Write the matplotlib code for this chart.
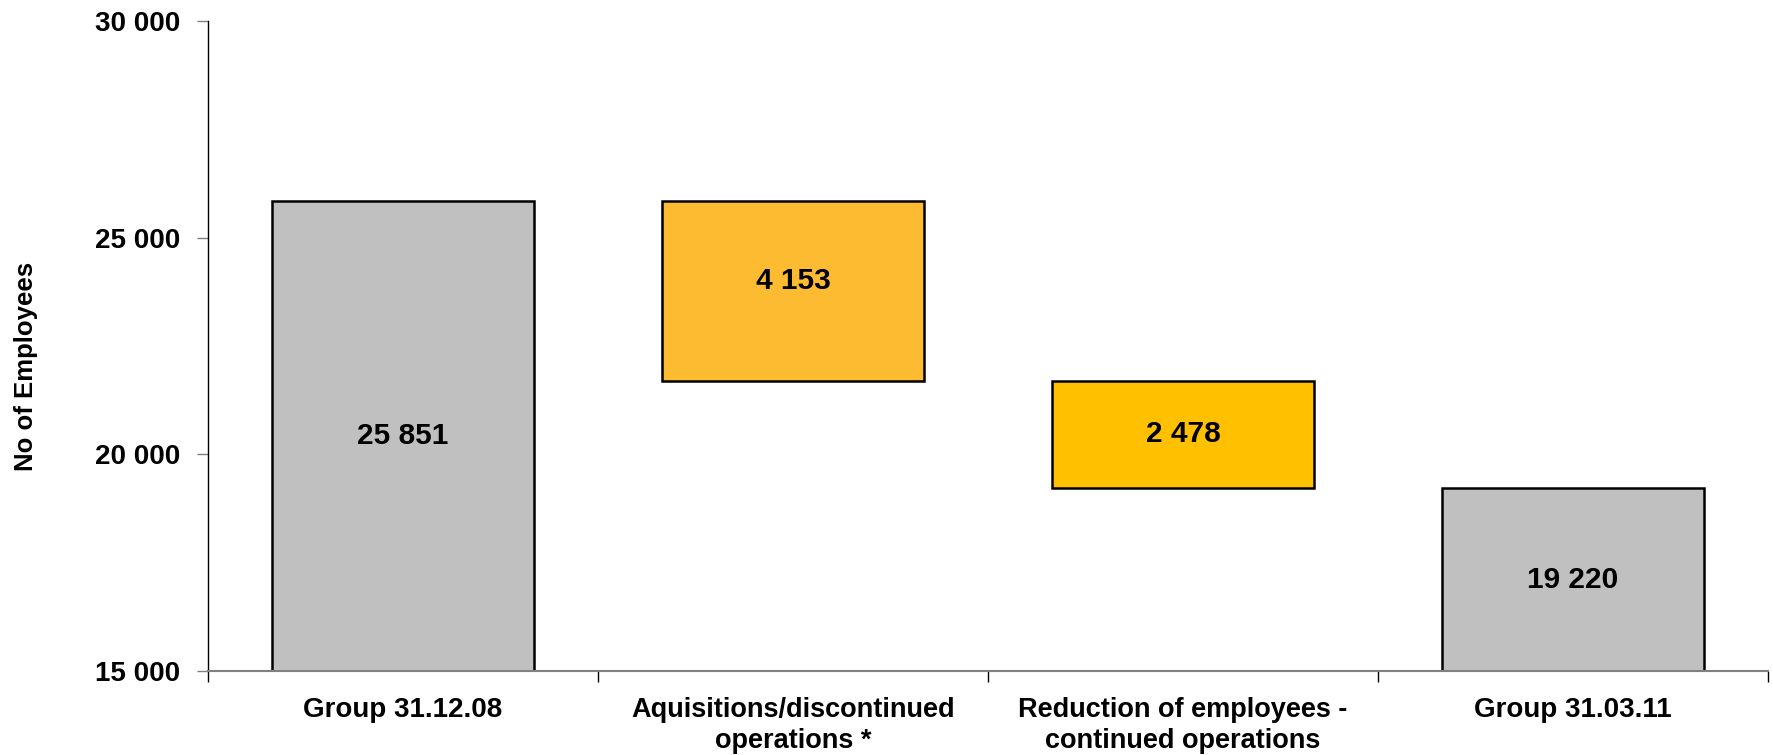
import numpy as np
import matplotlib.pyplot as plt

# ---- data ----
categories = ["Group 31.12.08", "Aquisitions/discontinued\noperations *",
              "Reduction of employees -\ncontinued operations", "Group 31.03.11"]
start_total = 25851
changes = [-4153, -2478]
end_total = 19220
value_labels = ["25 851", "4 153", "2 478", "19 220"]
colors = ["#C0C0C0", "#FCBB30", "#FFC000", "#C0C0C0"]
yticks = [15000, 20000, 25000, 30000]
ytick_labels = ["15 000", "20 000", "25 000", "30 000"]
label_offsets = [0, 7, 0, 0]   # pt, nudges value labels

plt.rcParams["font.family"] = ["Liberation Sans", "DejaVu Sans"]
plt.rcParams["font.weight"] = "bold"

# waterfall bottoms / heights
bottoms, heights = [], []
bottoms.append(0); heights.append(start_total)
level = start_total
for c in changes:
    new = level + c
    bottoms.append(min(level, new)); heights.append(abs(c))
    level = new
bottoms.append(0); heights.append(end_total)

fig = plt.figure(figsize=(17.73, 7.55), dpi=100)
ax = fig.add_axes([0.1173, 0.1113, 0.8799, 0.8609])

x = np.arange(len(categories))
ax.bar(x, heights, bottom=bottoms, width=0.67, color=colors,
       edgecolor="black", linewidth=1.8, zorder=2)

ymin, ymax = 15000, 30000
for xi, b, h, lab, off in zip(x, bottoms, heights, value_labels, label_offsets):
    lo = max(b, ymin)
    ax.annotate(lab, (xi, (lo + b + h) / 2), xytext=(0, off), textcoords="offset points",
                ha="center", va="center", fontsize=21.5, fontweight="bold", zorder=3)

ax.set_xlim(-0.5, len(categories) - 0.5)
ax.set_ylim(ymin, ymax)
ax.set_yticks(yticks)
ax.set_yticklabels(ytick_labels, fontsize=20, fontweight="bold")
ax.set_xticks(x)
ax.set_xticklabels(categories, fontsize=20, fontweight="bold", linespacing=1.25)
for t in ax.get_xticklabels():
    if "\n" in t.get_text():
        t.set_fontsize(19.5)
ax.set_xticks(np.arange(len(categories) + 1) - 0.5, minor=True)
ax.tick_params(axis="x", which="major", length=0, pad=19)
ax.tick_params(axis="x", which="minor", length=8, width=1, color="black", direction="out")
ax.tick_params(axis="y", length=8, width=1, color="#808080", pad=12)
ax.set_ylabel("No of Employees", fontsize=18.5, fontweight="bold")
ax.yaxis.set_label_coords(-0.109, 0.468)

ax.spines["top"].set_visible(False)
ax.spines["right"].set_visible(False)
ax.spines["left"].set_linewidth(1)
ax.spines["bottom"].set_color("#808080")
ax.spines["bottom"].set_linewidth(1.5)
ax.spines["bottom"].set_zorder(4)

fig.savefig("out.png", dpi=100)
